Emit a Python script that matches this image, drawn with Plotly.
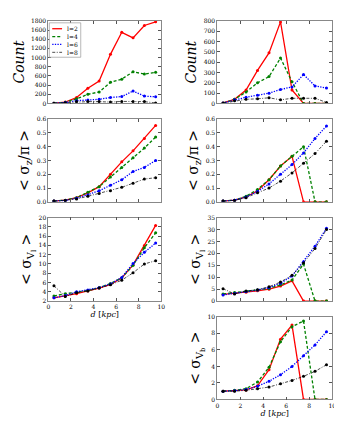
import plotly.graph_objects as go

d = [0.5, 1.5, 2.5, 3.5, 4.5, 5.5, 6.5, 7.5, 8.5, 9.5]
labels = ["l=2", "l=4", "l=6", "l=8"]

# Left column
count_L = {
    "l=2": [5, 30, 130, 330, 490, 1070, 1550, 1430, 1700, 1780],
    "l=4": [4, 25, 100, 200, 250, 460, 530, 690, 640, 680],
    "l=6": [5, 20, 60, 75, 90, 130, 150, 270, 160, 145],
    "l=8": [3, 15, 40, 40, 40, 30, 45, 45, 40, 10],
}
sz_L = {
    "l=2": [0.005, 0.012, 0.03, 0.065, 0.11, 0.2, 0.29, 0.37, 0.46, 0.555],
    "l=4": [0.005, 0.012, 0.03, 0.07, 0.11, 0.18, 0.25, 0.32, 0.39, 0.47],
    "l=6": [0.005, 0.01, 0.025, 0.05, 0.08, 0.12, 0.16, 0.22, 0.25, 0.3],
    "l=8": [0.005, 0.01, 0.02, 0.04, 0.06, 0.08, 0.105, 0.135, 0.165, 0.175],
}
vl_L = {
    "l=2": [2.7, 3.1, 3.6, 4.2, 4.8, 5.6, 7.0, 9.8, 14.0, 18.3],
    "l=4": [3.1, 3.6, 3.9, 4.3, 4.9, 5.8, 7.0, 9.7, 13.5, 16.7],
    "l=6": [2.7, 3.2, 4.0, 4.4, 4.9, 5.7, 7.1, 10.1, 12.5, 14.5],
    "l=8": [5.3, 3.0, 3.8, 4.2, 4.8, 5.5, 6.5, 8.1, 10.0, 10.7],
}
# Right column
count_R = {
    "l=2": [5, 40, 130, 320, 490, 790, 130, 0, 0, 0],
    "l=4": [4, 40, 110, 200, 260, 440, 210, 0, 0, 0],
    "l=6": [5, 35, 60, 80, 100, 135, 160, 280, 170, 150],
    "l=8": [3, 25, 40, 45, 55, 35, 50, 50, 50, 10],
}
sz_R = {
    "l=2": [0.005, 0.012, 0.035, 0.08, 0.16, 0.26, 0.33, 0.0, 0.0, 0.0],
    "l=4": [0.005, 0.012, 0.04, 0.09, 0.16, 0.26, 0.33, 0.40, 0.0, 0.0],
    "l=6": [0.005, 0.012, 0.035, 0.075, 0.13, 0.2, 0.27, 0.355, 0.46, 0.55],
    "l=8": [0.005, 0.01, 0.03, 0.065, 0.1, 0.15, 0.21, 0.28, 0.35, 0.44],
}
vl_R = {
    "l=2": [2.8, 3.2, 3.7, 4.3, 5.0, 6.3, 8.5, 0, 0, 0],
    "l=4": [3.0, 3.6, 4.0, 4.6, 5.3, 6.8, 8.8, 15.5, 0, 0],
    "l=6": [2.6, 3.2, 4.0, 4.6, 5.7, 7.5, 10.5, 16.5, 23.0, 30.5],
    "l=8": [5.2, 3.0, 4.2, 4.8, 6.0, 8.0, 10.8, 16.0, 22.0, 30.0],
}
vb_R = {
    "l=2": [1.0, 1.05, 1.15, 1.65, 3.6, 7.3, 9.0, 0, 0, 0],
    "l=4": [1.0, 1.1, 1.3, 2.1, 3.9, 7.0, 8.8, 9.5, 0, 0],
    "l=6": [1.0, 1.05, 1.2, 1.6, 2.2, 3.0, 4.0, 5.3, 6.6, 8.2],
    "l=8": [1.0, 1.0, 1.1, 1.3, 1.5, 1.9, 2.3, 2.8, 3.4, 4.2],
}

styles = {
    "l=2": dict(color="#ff0000", dash="solid", width=1.3),
    "l=4": dict(color="#008000", dash="3px,2px", width=1.3),
    "l=6": dict(color="#0000ff", dash="1.3px,1.3px", width=1.3),
    "l=8": dict(color="#000000", dash="3px,1.5px,1px,1.5px", width=0.7),
}

W, H = 342, 421
xl = (39 / W, 154 / W)
xr = (211 / W, 328 / W)
rows = [(9, 93), (109, 193), (209, 294), (310, 394)]
def ydom(r):
    t, b = rows[r]
    return (1 - b / H, 1 - t / H)

panels = [
    (count_L, "L", 0, [0, 1800], 200, "<i>Count</i>", False),
    (sz_L, "L", 1, [0, 0.6], 0.1, "< σ<sub>z</sub>/π >", False),
    (vl_L, "L", 2, [2, 20], 2, "< σ<sub>V<sub>l</sub></sub> >", True),
    (count_R, "R", 0, [0, 800], 100, "<i>Count</i>", False),
    (sz_R, "R", 1, [0, 0.6], 0.1, "< σ<sub>z</sub>/π >", False),
    (vl_R, "R", 2, [0, 35], 5, "< σ<sub>V<sub>l</sub></sub> >", False),
    (vb_R, "R", 3, [0, 10], 2, "< σ<sub>V<sub>b</sub></sub> >", True),
]

fig = go.Figure()
layout = {}
for i, (data, col, row, yr, dt, yt, showx) in enumerate(panels):
    n = i + 1
    xa = "x" if n == 1 else f"x{n}"
    ya = "y" if n == 1 else f"y{n}"
    for lab in labels:
        st = styles[lab]
        fig.add_trace(go.Scatter(
            x=d, y=data[lab], xaxis=xa, yaxis=ya, mode="lines+markers",
            name=lab, showlegend=False,
            line=dict(color=st["color"], dash=st["dash"], width=st["width"]),
            marker=dict(color=st["color"], size=3),
        ))
    axname_x = "xaxis" if n == 1 else f"xaxis{n}"
    axname_y = "yaxis" if n == 1 else f"yaxis{n}"
    common = dict(showline=True, linecolor="#888888", linewidth=0.8, mirror="ticks",
                  ticks="inside", ticklen=3, tickcolor="#555555", tickwidth=0.6,
                  showgrid=False, zeroline=False,
                  tickfont=dict(family="DejaVu Serif", size=6, color="#000000"))
    xdict = dict(common, domain=xl if col == "L" else xr, range=[0, 10], dtick=2,
                 anchor=ya, showticklabels=showx)
    if showx:
        xdict["title"] = dict(text="<i>d</i> [<i>kpc</i>]",
                              font=dict(family="DejaVu Serif", size=8, color="#000000"),
                              standoff=2)
    layout[axname_x] = xdict
    layout[axname_y] = dict(common, domain=ydom(row), range=yr, dtick=dt, anchor=xa,
                            tickformat=".1f" if dt == 0.1 else "d",
                            title=dict(text=yt, font=dict(family="DejaVu Serif", size=14, color="#000000"),
                                       standoff=3))

# Legend drawn as a small framed box inside the first panel (paper coordinates)
def px(x): return x / W
def py(y): return 1 - y / H
shapes = [dict(type="rect", xref="paper", yref="paper",
               x0=px(40), x1=px(72), y0=py(46), y1=py(11),
               line=dict(color="#888888", width=0.6), fillcolor="white", layer="above")]
annotations = []
for k, lab in enumerate(labels):
    st = styles[lab]
    yy = 17 + k * 8
    shapes.append(dict(type="line", xref="paper", yref="paper",
                       x0=px(43), x1=px(53), y0=py(yy), y1=py(yy),
                       line=dict(color=st["color"], dash=st["dash"], width=st["width"]),
                       layer="above"))
    annotations.append(dict(text=lab, xref="paper", yref="paper", x=px(56), y=py(yy),
                            xanchor="left", yanchor="middle", showarrow=False,
                            font=dict(family="DejaVu Serif", size=6, color="#000000")))

fig.update_layout(
    width=W, height=H, margin=dict(l=0, r=0, t=0, b=0),
    paper_bgcolor="white", plot_bgcolor="white", showlegend=False,
    shapes=shapes, annotations=annotations,
    **layout,
)
fig.write_html("out.html")
